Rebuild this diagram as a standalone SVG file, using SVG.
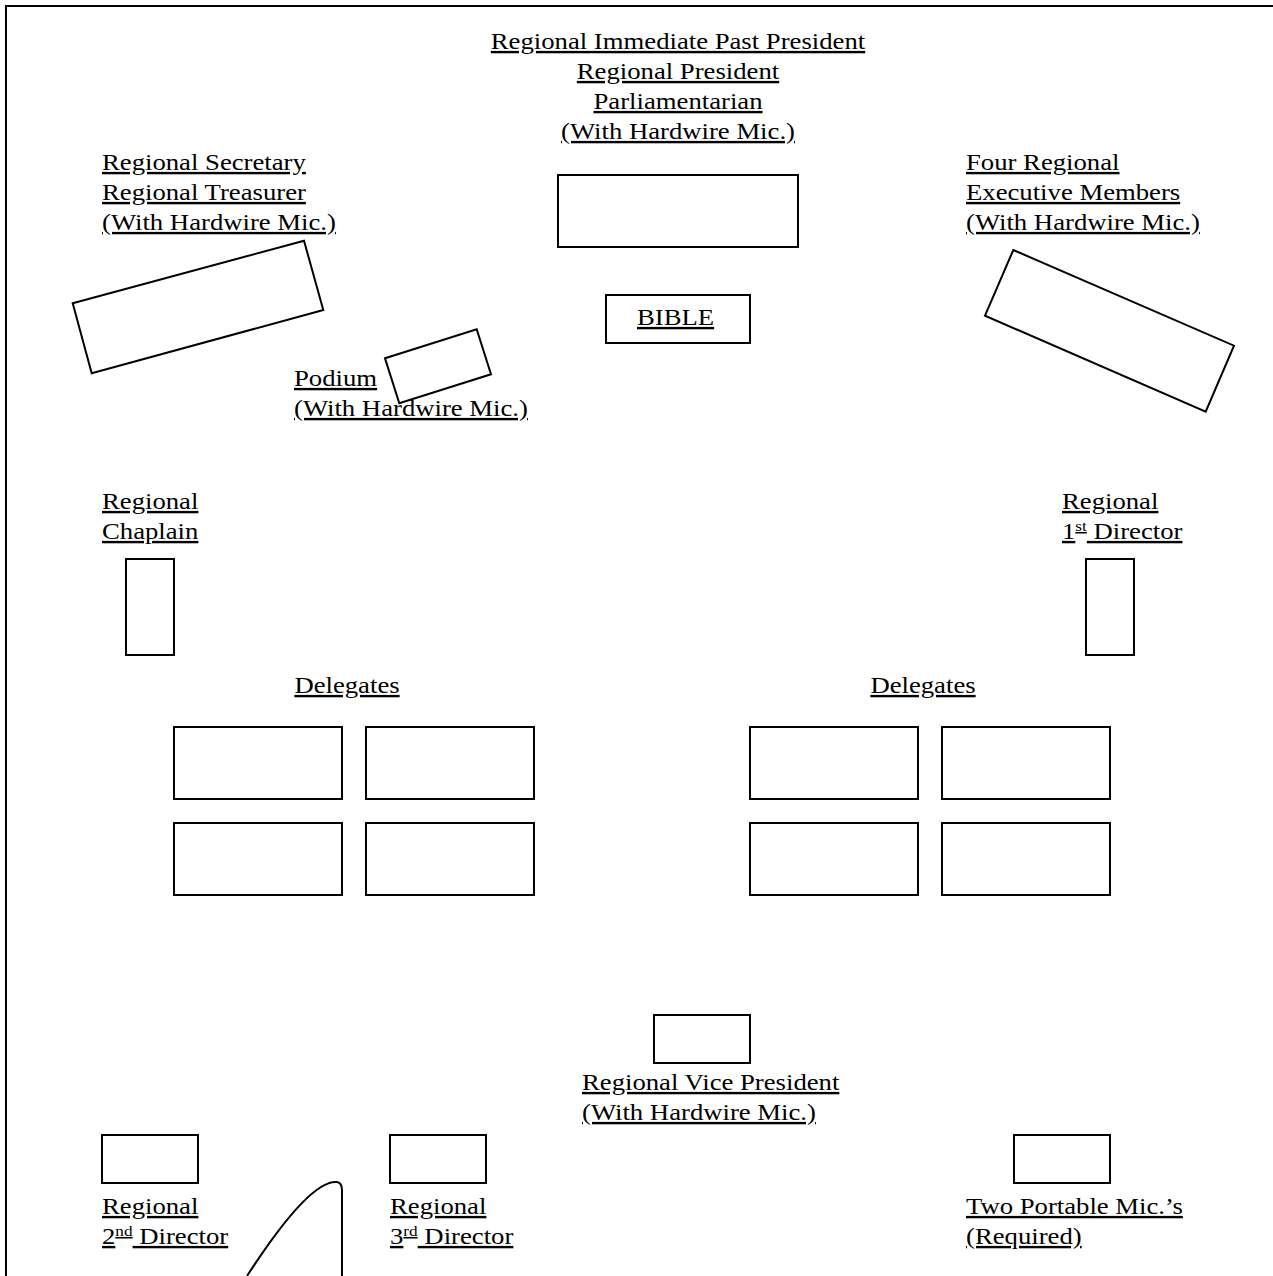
<svg xmlns="http://www.w3.org/2000/svg" width="1273" height="1276" viewBox="0 0 1273 1276">
<style>
text { font-family: "Liberation Serif", "Times New Roman", serif; font-size: 24px; fill: #000; text-decoration: underline; }
.c { text-anchor: middle; }
.box { fill: #fff; stroke: #000; stroke-width: 2; }
.sup { font-size: 15.5px; }
</style>
<rect width="1273" height="1276" fill="#fff"/>
<polyline points="6,1276 6,6 1273,6" fill="none" stroke="#000" stroke-width="2"/>

<g id="head-table">
  <text class="c" transform="translate(678,49) scale(1.113,1)">Regional Immediate Past President</text>
  <text class="c" transform="translate(678,79) scale(1.113,1)">Regional President</text>
  <text class="c" transform="translate(678,109) scale(1.113,1)">Parliamentarian</text>
  <text class="c" transform="translate(678,139) scale(1.113,1)">(With Hardwire Mic.)</text>
  <rect class="box" x="558" y="175" width="240" height="72"/>
</g>

<g id="bible">
  <rect class="box" x="606" y="295" width="144" height="48"/>
  <text transform="translate(637,325) scale(1.113,1)">BIBLE</text>
</g>

<g id="secretary-treasurer">
  <text transform="translate(102,170) scale(1.113,1)">Regional Secretary</text>
  <text transform="translate(102,200) scale(1.113,1)">Regional Treasurer</text>
  <text transform="translate(102,230) scale(1.113,1)">(With Hardwire Mic.)</text>
  <polygon class="box" points="72.7,303.3 304,240.7 323.3,310 91.7,373.3"/>
</g>

<g id="executive-members">
  <text transform="translate(966,170) scale(1.113,1)">Four Regional</text>
  <text transform="translate(966,200) scale(1.113,1)">Executive Members</text>
  <text transform="translate(966,230) scale(1.113,1)">(With Hardwire Mic.)</text>
  <polygon class="box" points="1013.3,250 1234,345.7 1205.7,411.7 985,315.7"/>
</g>

<g id="podium">
  <text transform="translate(294,386) scale(1.113,1)">Podium</text>
  <text transform="translate(294,416) scale(1.113,1)">(With Hardwire Mic.)</text>
  <polygon points="385,358.3 476.7,329.3 491,374.3 399.3,403.3" fill="none" stroke="#000" stroke-width="2"/>
</g>

<g id="chaplain">
  <text transform="translate(102,509) scale(1.113,1)">Regional</text>
  <text transform="translate(102,539) scale(1.113,1)">Chaplain</text>
  <rect class="box" x="126" y="559" width="48" height="96"/>
</g>

<g id="first-director">
  <text transform="translate(1062,509) scale(1.113,1)">Regional</text>
  <text transform="translate(1062,539) scale(1.113,1)">1<tspan class="sup" dy="-8">st</tspan><tspan dy="8"> Director</tspan></text>
  <rect class="box" x="1086" y="559" width="48" height="96"/>
</g>

<g id="delegates-left">
  <text class="c" transform="translate(347,693) scale(1.113,1)">Delegates</text>
  <rect class="box" x="174" y="727" width="168" height="72"/>
  <rect class="box" x="366" y="727" width="168" height="72"/>
  <rect class="box" x="174" y="823" width="168" height="72"/>
  <rect class="box" x="366" y="823" width="168" height="72"/>
</g>

<g id="delegates-right">
  <text class="c" transform="translate(923,693) scale(1.113,1)">Delegates</text>
  <rect class="box" x="750" y="727" width="168" height="72"/>
  <rect class="box" x="942" y="727" width="168" height="72"/>
  <rect class="box" x="750" y="823" width="168" height="72"/>
  <rect class="box" x="942" y="823" width="168" height="72"/>
</g>

<g id="vice-president">
  <rect class="box" x="654" y="1015" width="96" height="48"/>
  <text transform="translate(582,1090) scale(1.113,1)">Regional Vice President</text>
  <text transform="translate(582,1120) scale(1.113,1)">(With Hardwire Mic.)</text>
</g>

<g id="second-director">
  <rect class="box" x="102" y="1135" width="96" height="48"/>
  <text transform="translate(102,1214) scale(1.113,1)">Regional</text>
  <text transform="translate(102,1244) scale(1.113,1)">2<tspan class="sup" dy="-8">nd</tspan><tspan dy="8"> Director</tspan></text>
</g>

<g id="third-director">
  <rect class="box" x="390" y="1135" width="96" height="48"/>
  <text transform="translate(390,1214) scale(1.113,1)">Regional</text>
  <text transform="translate(390,1244) scale(1.113,1)">3<tspan class="sup" dy="-8">rd</tspan><tspan dy="8"> Director</tspan></text>
</g>

<g id="portable-mics">
  <rect class="box" x="1014" y="1135" width="96" height="48"/>
  <text transform="translate(966,1214) scale(1.113,1)">Two Portable Mic.’s</text>
  <text transform="translate(966,1244) scale(1.113,1)">(Required)</text>
</g>

<g id="connectors">
  <path d="M 247 1276 C 280 1225, 315 1180, 337 1182 Q 342 1183 342 1190 L 342 1276" fill="none" stroke="#000" stroke-width="2"/>
</g>
</svg>
